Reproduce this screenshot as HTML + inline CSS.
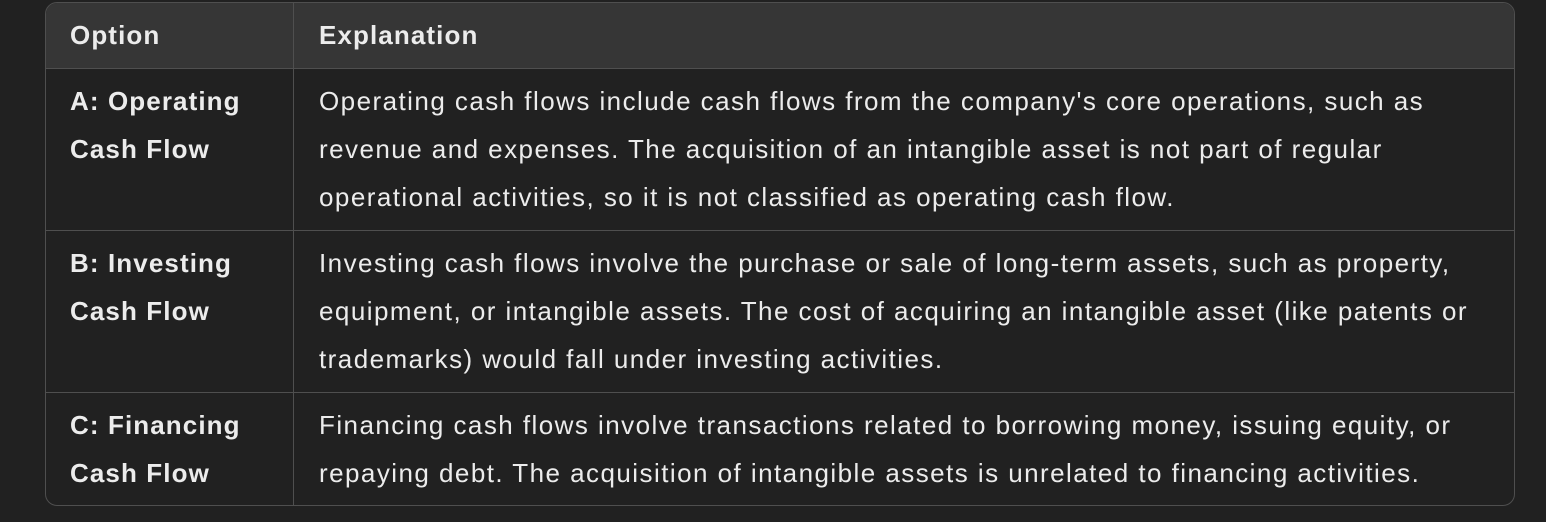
<!DOCTYPE html>
<html><head><style>
body{margin:0;background:#212121;width:1546px;height:522px;overflow:hidden;font-family:"Liberation Sans",sans-serif;color:#ececec}
.t{position:absolute;left:45px;top:2px;width:1470px;height:504px;border:1.5px solid #4f4f4f;border-radius:12px;overflow:hidden;box-sizing:border-box}
.r{position:absolute;left:0;width:100%;border-top:1.5px solid #4f4f4f;box-sizing:border-box}
.c1{position:absolute;left:24px;font-weight:bold;font-size:26px;line-height:48px;letter-spacing:1.1px}
.c2{position:absolute;left:273px;font-size:26px;line-height:48px;white-space:nowrap;letter-spacing:1.45px}
.v{position:absolute;left:247px;top:0;bottom:0;border-left:1.5px solid #4f4f4f}
</style></head><body>
<div class="t">
<div class="r" style="top:-2px;height:67px;background:#363636;border-top:none">
<div class="c1" style="top:10px">Option</div><div class="c2" style="top:10px;font-weight:bold;letter-spacing:1.1px">Explanation</div></div>
<div class="r" style="top:65px;height:162px">
<div class="c1" style="top:8px">A: Operating<br>Cash Flow</div>
<div class="c2" style="top:8px">Operating cash flows include cash flows from the company's core operations, such as<br>revenue and expenses. The acquisition of an intangible asset is not part of regular<br>operational activities, so it is not classified as operating cash flow.</div></div>
<div class="r" style="top:227px;height:162px">
<div class="c1" style="top:8px">B: Investing<br>Cash Flow</div>
<div class="c2" style="top:8px">Investing cash flows involve the purchase or sale of long-term assets, such as property,<br>equipment, or intangible assets. The cost of acquiring an intangible asset (like patents or<br>trademarks) would fall under investing activities.</div></div>
<div class="r" style="top:389px;height:115px">
<div class="c1" style="top:8px">C: Financing<br>Cash Flow</div>
<div class="c2" style="top:8px">Financing cash flows involve transactions related to borrowing money, issuing equity, or<br>repaying debt. The acquisition of intangible assets is unrelated to financing activities.</div></div>
<div class="v"></div>
</div>
</body></html>
